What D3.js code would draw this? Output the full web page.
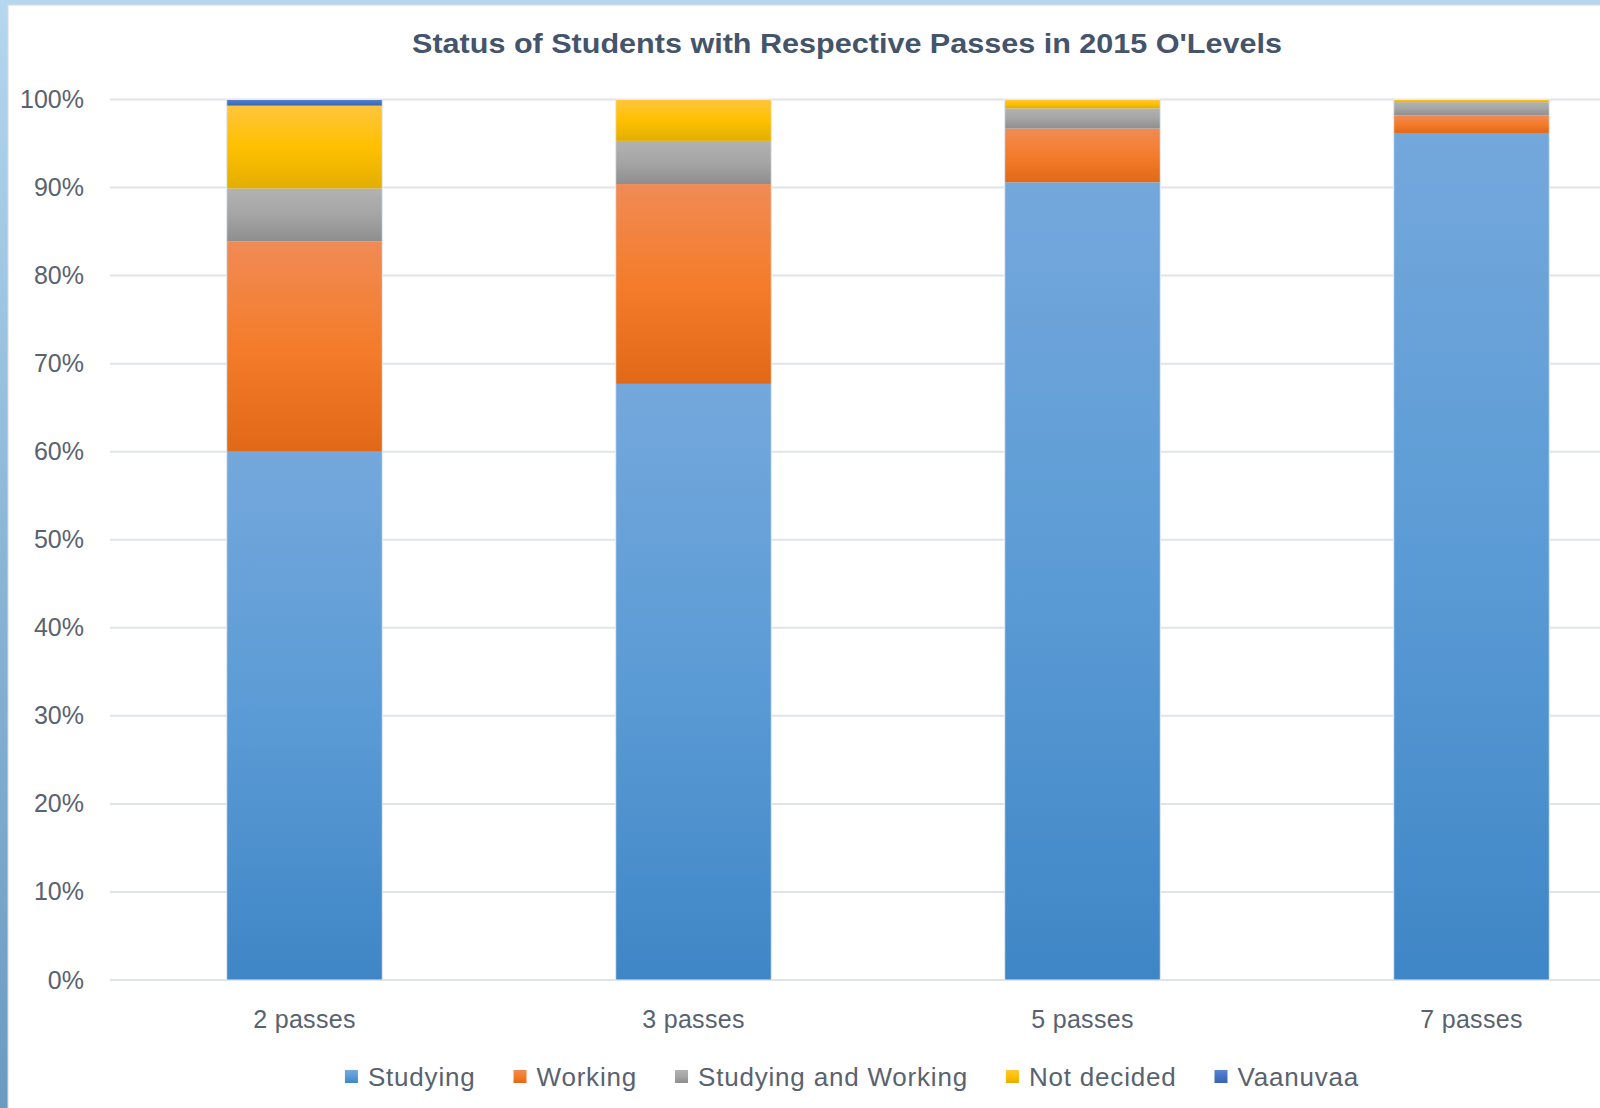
<!DOCTYPE html>
<html>
<head>
<meta charset="utf-8">
<script src="https://cdn.jsdelivr.net/npm/d3@7"></script>
<style>
  body { margin: 0; overflow: hidden; }
  svg { display: block; font-family: "Liberation Sans", Arial, sans-serif; }
</style>
</head>
<body>
<svg width="1600" height="1108"></svg>
<script>
const categories = ['2 passes', '3 passes', '5 passes', '7 passes'];
const seriesNames = ['Studying', 'Working', 'Studying and Working', 'Not decided', 'Vaanuvaa'];
const studying = [60.0, 67.7, 90.6, 96.2];
const working = [23.9, 22.7, 6.1, 2.0];
const studyingWorking = [6.0, 4.9, 2.3, 1.5];
const notDecided = [9.4, 4.7, 1.0, 0.3];
const vaanuvaa = [0.7, 0, 0, 0];
const yTicks = [0, 10, 20, 30, 40, 50, 60, 70, 80, 90, 100];

const svg = d3.select('svg');
const width = +svg.attr('width');
const height = +svg.attr('height');

// colour ramps per series: top, middle, bottom
const ramps = [
  ['#74a8dc', '#5b9bd5', '#3f86c6'],
  ['#f08b55', '#f47c2a', '#e06816'],
  ['#b2b2b2', '#a5a5a5', '#8e8e8e'],
  ['#ffc53d', '#ffc000', '#e2ae00'],
  ['#5a84cc', '#4472c4', '#3a64b0']
];

const defs = svg.append('defs');

const bg = defs.append('linearGradient').attr('id', 'bg')
    .attr('x1', 0).attr('y1', 0).attr('x2', 0).attr('y2', 1);
bg.append('stop').attr('offset', '0%').attr('stop-color', '#b5d7ef');
bg.append('stop').attr('offset', '50%').attr('stop-color', '#8ab6d6');
bg.append('stop').attr('offset', '100%').attr('stop-color', '#6a9bc0');

ramps.forEach((r, i) => {
  const lg = defs.append('linearGradient').attr('id', 'g' + i)
      .attr('x1', 0).attr('y1', 0).attr('x2', 0).attr('y2', 1);
  lg.append('stop').attr('offset', '0%').attr('stop-color', r[0]);
  lg.append('stop').attr('offset', '50%').attr('stop-color', r[1]);
  lg.append('stop').attr('offset', '100%').attr('stop-color', r[2]);
});

// slide background and chart panel
svg.append('rect').attr('width', width).attr('height', height).attr('fill', 'url(#bg)');
svg.append('rect')
    .attr('x', 8).attr('y', 5)
    .attr('width', width).attr('height', height)
    .attr('fill', '#ffffff')
    .attr('stroke', '#d9d9d9');

const x = d3.scaleBand()
    .domain(categories)
    .range([110, 1666])
    .paddingInner(0.6)
    .paddingOuter(0.3);

const y = d3.scaleLinear()
    .domain([0, 100])
    .range([980, 99.5]);

// gridlines
svg.append('g')
  .selectAll('line')
  .data(yTicks)
  .join('line')
    .attr('x1', 110)
    .attr('x2', width)
    .attr('y1', d => y(d))
    .attr('y2', d => y(d))
    .attr('stroke', '#dfe3ea')
    .attr('stroke-width', 2);

// y axis labels
const yAxis = svg.append('g')
    .attr('transform', 'translate(84,0)')
    .call(d3.axisLeft(y).tickValues(yTicks).tickFormat(d => d + '%').tickSize(0).tickPadding(0));
yAxis.select('.domain').remove();
yAxis.selectAll('text')
    .attr('font-family', '"Liberation Sans", Arial, sans-serif')
    .attr('font-size', 25)
    .attr('fill', '#59626f');

// x axis labels
const xAxis = svg.append('g')
    .attr('transform', 'translate(0,1010)')
    .call(d3.axisBottom(x).tickSize(0).tickPadding(0));
xAxis.select('.domain').remove();
xAxis.selectAll('text')
    .attr('font-family', '"Liberation Sans", Arial, sans-serif')
    .attr('font-size', 25)
    .attr('letter-spacing', 0.3)
    .attr('fill', '#59626f');

// stacked bars
const table = categories.map((c, i) => ({
  cat: c,
  'Studying': studying[i],
  'Working': working[i],
  'Studying and Working': studyingWorking[i],
  'Not decided': notDecided[i],
  'Vaanuvaa': vaanuvaa[i]
}));

const stacked = d3.stack().keys(seriesNames)(table);

svg.append('g')
  .selectAll('g')
  .data(stacked)
  .join('g')
    .attr('fill', (d, i) => `url(#g${i})`)
  .selectAll('rect')
  .data(d => d.filter(p => p[1] - p[0] > 0))
  .join('rect')
    .attr('x', d => x(d.data.cat))
    .attr('width', x.bandwidth())
    .attr('y', d => y(d[1]))
    .attr('height', d => y(d[0]) - y(d[1]));

// faint edge around each bar
svg.append('g')
  .selectAll('rect')
  .data(categories)
  .join('rect')
    .attr('x', d => x(d))
    .attr('y', y(100))
    .attr('width', x.bandwidth())
    .attr('height', y(0) - y(100))
    .attr('fill', 'none')
    .attr('stroke', '#e3ebf5')
    .attr('stroke-width', 1);

// title
svg.append('text')
    .attr('x', 847)
    .attr('y', 53)
    .attr('text-anchor', 'middle')
    .attr('font-size', 27)
    .attr('font-weight', 'bold')
    .attr('fill', '#44546a')
    .attr('textLength', 870)
    .attr('lengthAdjust', 'spacingAndGlyphs')
    .text("Status of Students with Respective Passes in 2015 O'Levels");

// legend
const legend = svg.append('g');
const items = legend.selectAll('g')
  .data(seriesNames)
  .join('g');
items.append('rect')
    .attr('width', 13)
    .attr('height', 13)
    .attr('y', 1070)
    .attr('fill', (d, i) => `url(#g${i})`);
items.append('text')
    .attr('x', 23)
    .attr('y', 1086)
    .attr('font-size', 26)
    .attr('letter-spacing', 0.8)
    .attr('fill', '#59626f')
    .text(d => d);

let offset = 0;
const gap = 38;
items.each(function () {
  const w = 23 + d3.select(this).select('text').node().getComputedTextLength();
  d3.select(this).attr('data-x', offset);
  offset += w + gap;
});
const total = offset - gap;
const start = 852 - total / 2;
items.attr('transform', function () {
  return `translate(${start + +d3.select(this).attr('data-x')},0)`;
});
</script>
</body>
</html>
